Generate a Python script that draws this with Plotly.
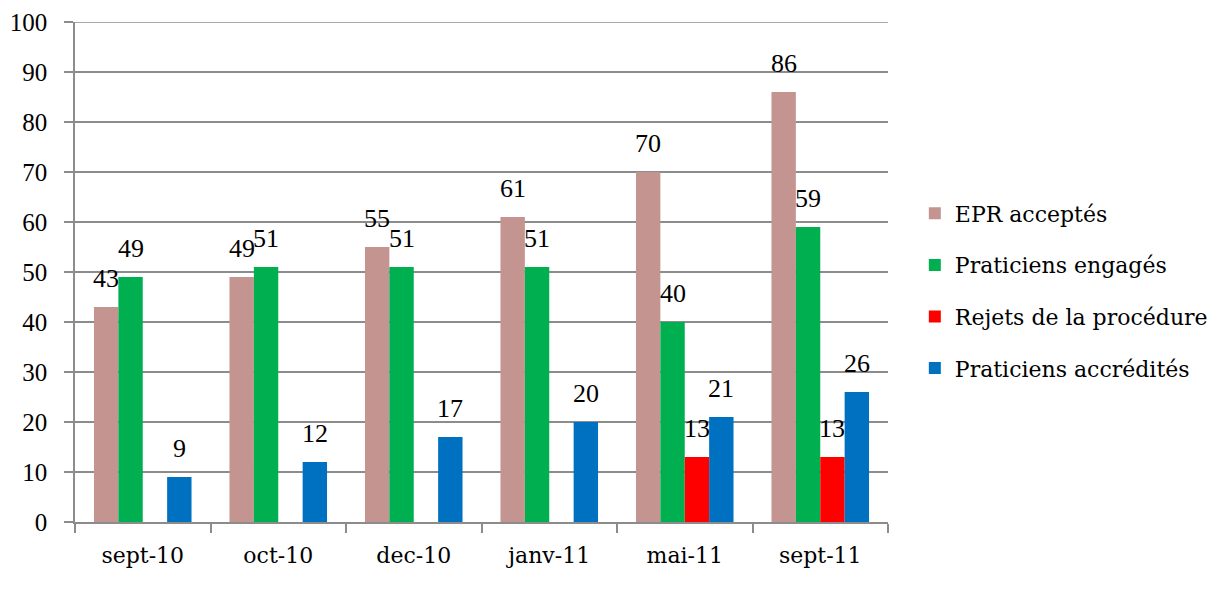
import plotly.graph_objects as go

# ── data ─────────────────────────────────────────────
categories = ["sept-10", "oct-10", "dec-10", "janv-11", "mai-11", "sept-11"]
epr_acceptes = [43, 49, 55, 61, 70, 86]
praticiens_engages = [49, 51, 51, 51, 40, 59]
rejets_procedure = [None, None, None, None, 13, 13]
praticiens_accredites = [9, 12, 17, 20, 21, 26]

series = [
    ("EPR acceptés", epr_acceptes, "#C49490"),
    ("Praticiens engagés", praticiens_engages, "#00B050"),
    ("Rejets de la procédure", rejets_procedure, "#FF0000"),
    ("Praticiens accrédités", praticiens_accredites, "#0070C0"),
]

NUM_FONT = "Liberation Serif"
TXT_FONT = "DejaVu Serif"
GRID = "#8C8C8C"

# plot area geometry (used only to offset the value labels over each bar)
PLOT_W = 1224 - 67 - 344
BARGAP = 0.28
bar_w = PLOT_W / len(categories) * (1 - BARGAP) / len(series)

fig = go.Figure()
for i, (name, vals, color) in enumerate(series):
    fig.add_trace(go.Bar(
        x=categories, y=vals, name=name,
        marker_color=color, marker_line_width=0,
        legendgroup=f"g{i}",
    ))
    # value labels, floating a little above each bar like Excel's "outside end"
    for cat, v in zip(categories, vals):
        if v is None:
            continue
        fig.add_annotation(
            x=cat, y=v, text=str(v), showarrow=False,
            xanchor="center", yanchor="bottom",
            xshift=(i - 1.5) * bar_w, yshift=12,
            font=dict(family=NUM_FONT, size=26, color="black"),
        )

# top gridline (sits on the plot edge, so draw it explicitly)
fig.add_shape(type="line", xref="paper", yref="y", x0=-0.011, x1=1, y0=100, y1=100,
              line=dict(color=GRID, width=1.5), layer="below")

fig.update_layout(
    width=1224, height=592,
    margin=dict(l=67, r=344, t=14, b=78, autoexpand=False),
    plot_bgcolor="white", paper_bgcolor="white",
    barmode="group", bargap=BARGAP, bargroupgap=0,
    legend=dict(
        x=1.033, xanchor="left", y=0.462, yanchor="middle",
        font=dict(family=TXT_FONT, size=22, color="black"),
        tracegroupgap=20, traceorder="grouped",
    ),
)
fig.update_yaxes(
    range=[0, 100], dtick=10,
    showgrid=True, gridcolor=GRID, gridwidth=1.5,
    showline=True, linecolor=GRID, linewidth=1.5,
    ticks="outside", ticklen=9, tickcolor=GRID, tickwidth=1.5,
    ticklabelstandoff=12, ticklabeloverflow="allow", automargin=False,
    tickfont=dict(family=NUM_FONT, size=25, color="black"),
    zeroline=False,
)
fig.update_xaxes(
    showline=True, linecolor=GRID, linewidth=1.5,
    ticks="outside", tickson="boundaries", ticklen=9, tickcolor=GRID, tickwidth=1.5,
    ticklabelstandoff=13, automargin=False,
    tickfont=dict(family=TXT_FONT, size=22, color="black"),
)

fig.write_html("out.html")
